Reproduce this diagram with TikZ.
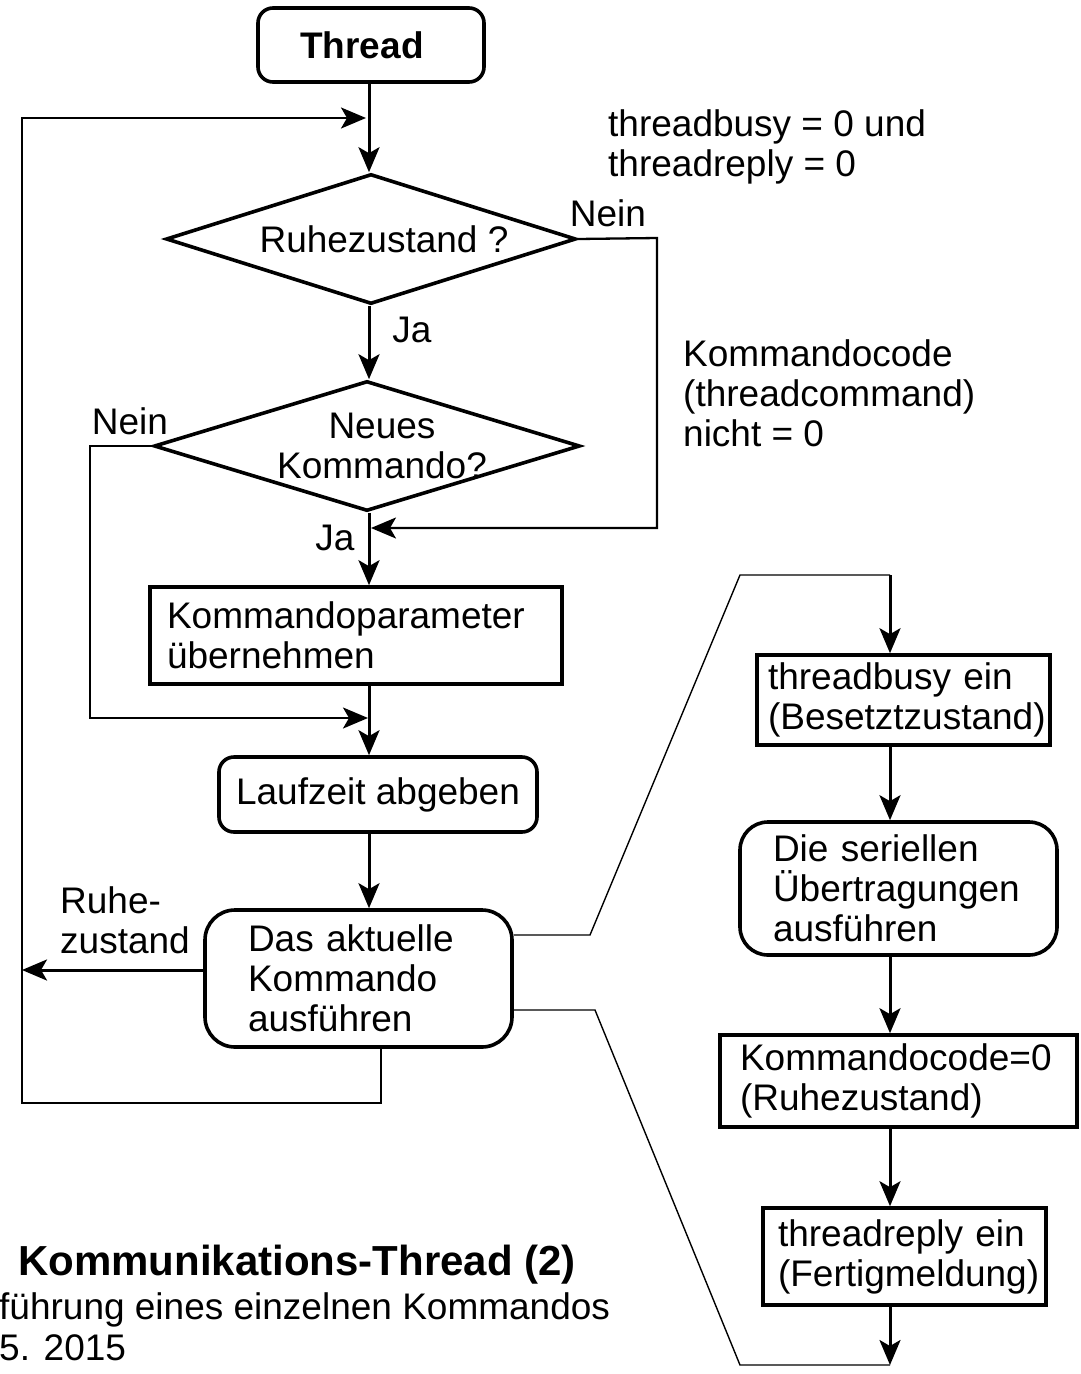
\documentclass[tikz,border=0pt]{standalone}
\usepackage{fontspec}
\setmainfont{Liberation Sans}
\usetikzlibrary{arrows.meta,shapes.geometric}

\begin{document}
\begin{tikzpicture}[x=1pt,y=-1pt,
  every node/.style={font=\fontsize{37}{40}\selectfont, inner sep=0pt},
  tip/.style={-{Stealth[length=25pt,width=21pt,inset=6pt]}},
  flow/.style={line width=3pt, tip},
  back/.style={line width=2.3pt},
  slim/.style={line width=1.4pt},
  box/.style={draw, line width=3.6pt, rectangle, align=left},
  rbox/.style={box, rounded corners=15pt},
  diam/.style={draw, diamond, line width=3.6pt, inner sep=0pt, aspect=1}
]
\useasboundingbox (0,0) rectangle (1080,1374);

% ---------- main column ----------
\node[rbox, minimum width=226pt, minimum height=74pt, font=\fontsize{37}{40}\selectfont\bfseries]
  (thr) at (371,45) {Thread\hspace{18pt}};
\node[diam, minimum width=410pt, minimum height=130pt,
  label={[xshift=13pt]center:Ruhezustand ?}] (d1) at (371,239) {};
\node[diam, minimum width=426pt, minimum height=130pt,
  label={[xshift=15pt,align=center]center:Neues\\Kommando?}] (d2) at (367,446) {};
\node[box, inner xsep=17pt, text width=378pt, minimum height=97pt]
  (kp) at (356,635.5) {Kommandoparameter\\übernehmen};
\node[rbox, minimum width=318pt, minimum height=75pt] (lz) at (378,794.5) {Laufzeit abgeben};
\node[box, rounded corners=30pt, inner xsep=43pt, text width=221pt, minimum height=137pt]
  (das) at (358.5,978.5) {Das aktuelle\\Kommando\\ausführen};

% ---------- expanded command sequence ----------
\node[box, inner xsep=11pt, text width=271pt, minimum height=90pt]
  (tb) at (903.5,700) {threadbusy ein\\(Besetztzustand)};
\node[box, rounded corners=28pt, inner xsep=33pt, text width=251pt, minimum height=133pt]
  (ser) at (898.5,888.5) {Die seriellen\\Übertragungen\\ausführen};
\node[box, inner xsep=20pt, text width=317pt, minimum height=92pt]
  (kc) at (898.5,1081) {Kommandocode=0\\(Ruhezustand)};
\node[box, inner xsep=15pt, text width=253pt, minimum height=97pt]
  (tr) at (904.5,1256.5) {threadreply ein\\(Fertigmeldung)};

% ---------- labels ----------
\node[anchor=west, align=left] (cond) at (608,147) {threadbusy = 0 und\\threadreply = 0};
\node[anchor=west, align=left] (kcode) at (683,393) {Kommandocode\\(threadcommand)\\nicht = 0};
\node (nein1) at (608,213) {Nein};
\node (ja1) at (412,330) {Ja};
\node (nein2) at (130,421) {Nein};
\node (ja2) at (335,538) {Ja};
\node[anchor=west, align=left] (ruhe) at (60,920) {Ruhe-\\zustand};
\node[anchor=east, font=\fontsize{42}{46}\selectfont\bfseries] (title) at (576,1265)
  {Kommunikations-Thread (2)};
\node[anchor=west] (sub1) at (-1,1310) {führung eines einzelnen Kommandos};
\node[anchor=west] (sub2) at (-1,1348) {5. 2015};

% ---------- connectors of the main column ----------
\coordinate (col) at (369,0);
\coordinate (colR) at (890,0);
\draw[flow] (thr.south -| col) -- (d1.north -| col);
\draw[flow] (d1.south -| col) -- (d2.north -| col);
\draw[flow] (d2.south -| col) -- (kp.north -| col);
\draw[flow] (kp.south -| col) -- (lz.north -| col);
\draw[flow] (lz.south -| col) -- (das.north -| col);

% "Nein" branch of the idle test
\coordinate (j1) at (371,528);
\draw[back, tip] (d1.east) -- (657,238) -- (657,528) -- (j1);
% "Nein" branch of the command test
\coordinate (j2) at (368,718);
\draw[back, tip] (d2.west) -- (90,446) -- (90,718) -- (j2);
% idle exit to the left
\coordinate (idle) at (22,970);
\draw[flow] (das.west |- idle) -- (idle);
% loop back to the top
\coordinate (loopOut) at (381,1047);
\coordinate (loopIn) at (366,118);
\draw[back, tip] (loopOut) -- (381,1103) -- (22,1103) -- (22,118) -- (loopIn);

% ---------- expansion lines ----------
\coordinate (topEnd) at (890,575);
\coordinate (botEnd) at (890,1365);
\draw[slim] ([yshift=43.5pt]das.east) -- (590,935) -- (740,575) -- (topEnd);
\draw[slim] ([yshift=-31.5pt]das.east) -- (595,1010) -- (740,1365) -- (botEnd);
\draw[flow] (topEnd) -- (tb.north -| colR);
\draw[flow] (tb.south -| colR) -- (ser.north -| colR);
\draw[flow] (ser.south -| colR) -- (kc.north -| colR);
\draw[flow] (kc.south -| colR) -- (tr.north -| colR);
\draw[flow] (tr.south -| colR) -- (botEnd);
\end{tikzpicture}
\end{document}
